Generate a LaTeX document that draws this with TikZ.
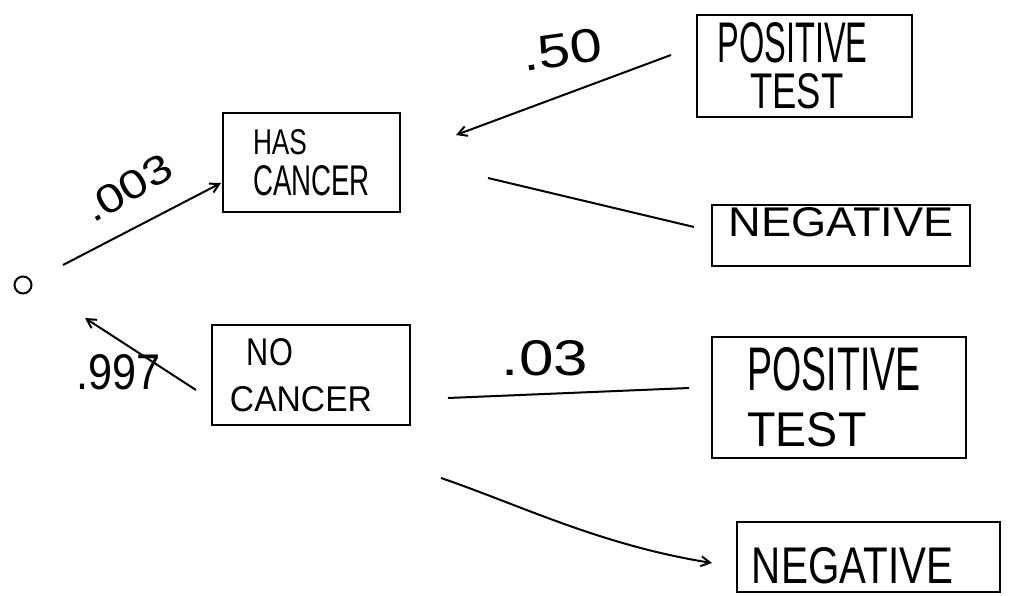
\documentclass[tikz,border=0pt]{standalone}
\usepackage{fontspec}
\setmainfont{Liberation Sans}
\usepackage{graphicx}
\usetikzlibrary{calc,arrows.meta}
\newcommand{\hw}[3]{\resizebox{#1pt}{#2pt}{#3}}
\begin{document}
\begin{tikzpicture}[x=1pt,y=-1pt,
  box/.style={draw,line width=2pt,inner sep=0pt,align=left},
  conn/.style={line width=2pt},
  tip/.style={-{Straight Barb[length=9pt,width=10pt]}},
  prob/.style={inner sep=0pt}]
\useasboundingbox (0,0) rectangle (1009,596);
\fill[white] (0,0) rectangle (1009,596);

% root
\node[draw,circle,line width=2pt,minimum size=17pt,inner sep=0pt] (root) at (23,285) {};

% first level
\node[box,minimum width=177pt,minimum height=99pt] (has) at (311.5,162.5)
  {\hw{54}{25}{HAS}\\[10pt]\hw{117}{30}{CANCER}};
\node[box,minimum width=198pt,minimum height=100pt] (nocan) at (311,375)
  {\hspace*{17pt}\hw{46}{27}{NO}\\[20pt]\hw{142}{25}{CANCER}\hspace*{20pt}};

% second level
\node[box,minimum width=215pt,minimum height=102pt] (pos1) at (804.5,66)
  {\hw{150}{40}{POSITIVE}\hspace*{24pt}\\[9pt]\hspace*{33pt}\hw{93}{35}{TEST}};
\node[box,minimum width=258pt,minimum height=61pt] (neg1) at (841,235.5)
  {\raisebox{-1.5pt}[0pt][0pt]{\hw{225}{29}{NEGATIVE}}};
\node[box,minimum width=254pt,minimum height=121pt] (pos2) at (839,397.5)
  {\hw{173}{43}{POSITIVE}\hspace*{10pt}\\[20pt]\hw{119}{34}{TEST}};
\node[box,minimum width=263pt,minimum height=70pt] (neg2) at (868.5,557)
  {\hspace*{-32pt}\raisebox{-26pt}[0pt][0pt]{\hw{201}{36}{NEGATIVE}}};

% probabilities
\node[prob,rotate=30] (p003) at (128,188) {\hw{96}{28}{.003}};
\node[prob] (p997) at (119,372) {\hw{84}{35}{.997}};
\node[prob,rotate=8] (p50) at (562,50) {\hw{80}{33}{.50}};
\node[prob] (p03) at (545,358) {\hw{86}{35}{.03}};

% connectors
\draw[conn,tip] ($(root)+(40,-20)$) -- ($(has.west)+(-1,20.5)$);
\draw[conn,tip] ($(nocan.west)+(-15,15)$) -- ($(root)+(62,33)$);
\draw[conn,tip] ($(pos1.west)+(-25,-11)$) -- ($(has.east)+(55,-27.5)$);
\draw[conn] ($(has.east)+(87,15.5)$) -- ($(neg1.west)+(-17,-8.5)$);
\draw[conn] ($(nocan.east)+(37,23)$) -- ($(pos2.west)+(-22,-9.5)$);
\draw[conn,tip] ($(nocan.south east)+(30,52)$) .. controls (520,505) and (600,545) .. ($(neg2.west)+(-24,6)$);
\end{tikzpicture}
\end{document}
